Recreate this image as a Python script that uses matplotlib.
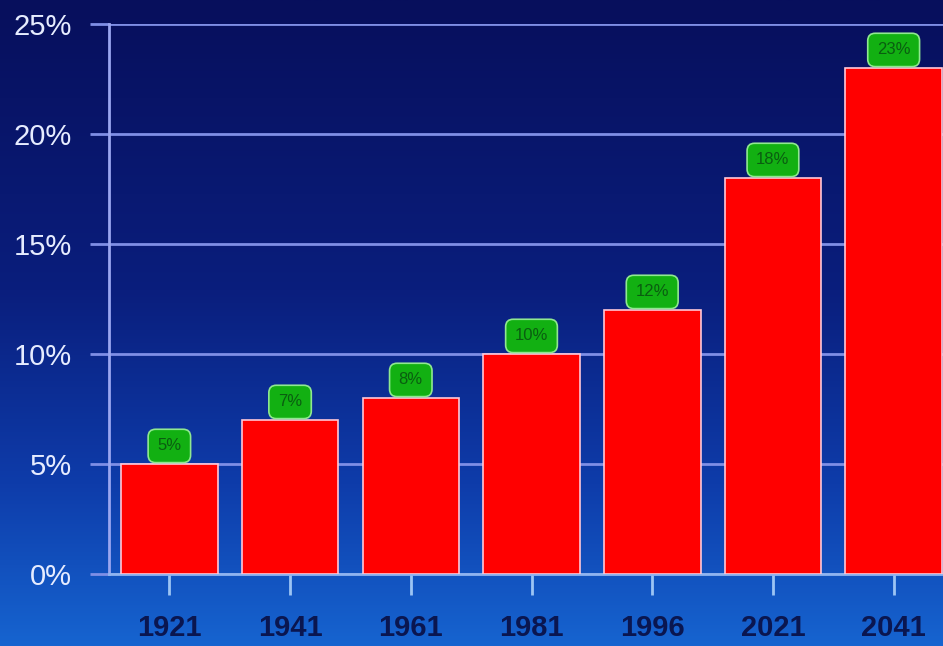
#!/usr/bin/env python3
"""Bar chart of share by year, blue gradient slide style."""
import numpy as np
import matplotlib

matplotlib.use("Agg")
import matplotlib.pyplot as plt
from matplotlib.ticker import FuncFormatter

years = ["1921", "1941", "1961", "1981", "1996", "2021", "2041"]
share_pct = [5, 7, 8, 10, 12, 18, 23]
y_ticks = [0, 5, 10, 15, 20, 25]

plt.rcParams["font.family"] = ["Liberation Sans", "DejaVu Sans"]

W, H = 943, 646
fig = plt.figure(figsize=(W / 100, H / 100), dpi=100)

# background gradient: dark navy on top, brightening toward the bottom
bg = fig.add_axes([0, 0, 1, 1], zorder=-10)
stops_t = [0.0, 0.45, 0.75, 1.0]
stops_c = np.array([[7, 15, 92], [10, 30, 125], [14, 60, 170], [22, 100, 208]]) / 255
t = np.linspace(0, 1, 256)
grad = np.stack([np.interp(t, stops_t, stops_c[:, i]) for i in range(3)], axis=1)
bg.imshow(grad[:, None, :].repeat(2, axis=1), aspect="auto", extent=[0, 1, 0, 1])
bg.set_axis_off()

left, right = 109 / W, 954 / W
y0, y1 = 1 - 574 / H, 1 - 24 / H
ax = fig.add_axes([left, y0, right - left, y1 - y0])
ax.patch.set_alpha(0)

x = np.arange(len(years))
ax.bar(x, share_pct, width=0.8, color="#ff0000", edgecolor="#ffc8d8",
       linewidth=1.2, zorder=3)

fs, pad = 12, 0.55
for xi, v in zip(x, share_pct):
    ax.annotate(f"{v}%", (xi, v), xytext=(0, fs * pad + 1), textcoords="offset points",
                ha="center", va="bottom", fontsize=fs, color="#0a5e10",
                zorder=5,
                bbox=dict(boxstyle=f"round,pad={pad},rounding_size=0.45",
                          facecolor="#12b012", edgecolor="#90e890", linewidth=1.2))

ax.set_xlim(-0.5, len(years) - 0.5)
ax.set_ylim(0, 25)
ax.set_yticks(y_ticks)
ax.yaxis.set_major_formatter(FuncFormatter(lambda v, p: f"{v:.0f}%"))
ax.set_xticks(x)
ax.set_xticklabels(years)

grid_c = "#7f8fe6"
ax.grid(axis="y", color=grid_c, linewidth=2, zorder=1)
ax.set_axisbelow(True)
for s in ("top", "right"):
    ax.spines[s].set_visible(False)
ax.spines["left"].set_color("#9aa6f0")
ax.spines["left"].set_linewidth(2)
ax.spines["bottom"].set_color("#8fb4f0")
ax.spines["bottom"].set_linewidth(2)

ax.tick_params(axis="y", length=14, width=2, color=grid_c, pad=13,
               labelsize=21, labelcolor="#e6ecff")
ax.tick_params(axis="x", length=15, width=2, color="#9cc4f4", pad=14,
               labelsize=21, labelcolor="#0a1650")
for lab in ax.get_xticklabels():
    lab.set_fontweight("bold")

fig.savefig("out.png", dpi=100)
